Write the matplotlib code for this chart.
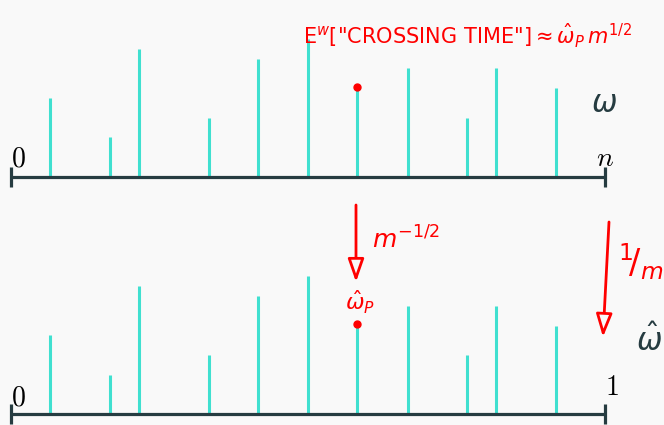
import matplotlib.pyplot as plt
from matplotlib.patches import FancyArrowPatch

# positions of the points along the line (as a fraction of n) and their weights
positions = [0.067, 0.167, 0.216, 0.334, 0.416, 0.500, 0.582, 0.668, 0.767, 0.816, 0.917]
weights = [8, 4, 13, 6, 12, 14, 9, 11, 6, 11, 9]
p_index = 6  # the point p that gets the red dot
top_ends = ['0', 'n']
bottom_ends = ['0', '1']

W, H = 664, 425
bg = '#f9f9f9'
teal = '#40e0d0'
dark = '#263c41'
red = '#ff0000'

plt.rcParams['mathtext.fontset'] = 'dejavusans'

fig = plt.figure(figsize=(W / 100, H / 100), dpi=100, facecolor=bg)


def fx(x, y):
    # pixel position (from top left) -> figure fraction
    return (x / W, 1 - y / H)


def number_line(ax, ends, ylim):
    ax.set_facecolor(bg)
    ax.set_xlim(-0.0177, 1.0987)
    ax.set_ylim(*ylim)
    ax.axis('off')
    ax.vlines(positions, 0, weights, color=teal, lw=2.2)
    ax.plot([0, 1], [0, 0], color=dark, lw=2.3, solid_capstyle='butt')
    ax.vlines([0, 1], -1.0, 1.0, color=dark, lw=2.3)
    ax.plot(positions[p_index], weights[p_index] + 0.15, 'o', color=red, ms=5)


top = fig.add_axes([0, 210 / H, 1, 215 / H])
number_line(top, top_ends, (-3.89, 17.94))
top.text(0, 1.05, '$' + top_ends[0] + '$', ha='left', va='baseline', fontsize=20,
         math_fontfamily='cm', color='black')
top.text(1, 1.05, '$' + top_ends[1] + '$', ha='center', va='baseline', fontsize=20,
         math_fontfamily='cm', color='black')

bottom = fig.add_axes([0, 0, 1, 210 / H])
number_line(bottom, bottom_ends, (-1.086, 20.23))
bottom.text(0, 0.9, '$' + bottom_ends[0] + '$', ha='left', va='baseline', fontsize=20,
            math_fontfamily='cm', color='black')
bottom.text(1.0, 2.0, '$' + bottom_ends[1] + '$', ha='left', va='baseline', fontsize=20,
            math_fontfamily='cm', color='black')

# hand written notes
fig.text(*fx(303, 36), r'E$^{w}$["CROSSING TIME"]$\approx\hat{\omega}_{P}\,m^{1/2}$',
         ha='left', va='center', color=red, fontsize=15)
fig.text(*fx(604, 104), r'$\omega$', ha='center', va='center', color=dark, fontsize=22)
fig.text(*fx(649, 340), r'$\hat{\omega}$', ha='center', va='center', color=dark, fontsize=22)

fig.text(*fx(372, 240), r'$m^{-1/2}$', ha='left', va='center', color=red, fontsize=18)
fig.text(*fx(360, 302), r'$\hat{\omega}_{P}$', ha='center', va='center', color=red, fontsize=16)
fig.text(*fx(641, 262), r'${}^{1}\!/_{m}$', ha='center', va='center', color=red, fontsize=24)

arrows = [((356, 205), (356, 282)), ((609, 222), (603, 337))]
for a, b in arrows:
    arr = FancyArrowPatch(fx(*a), fx(*b), transform=fig.transFigure,
                          arrowstyle='-|>,head_length=1.0,head_width=0.35',
                          mutation_scale=14, shrinkA=0, shrinkB=0,
                          lw=2, ec=red, fc=bg)
    fig.add_artist(arr)

fig.savefig('out.png', dpi=100, facecolor=bg)
